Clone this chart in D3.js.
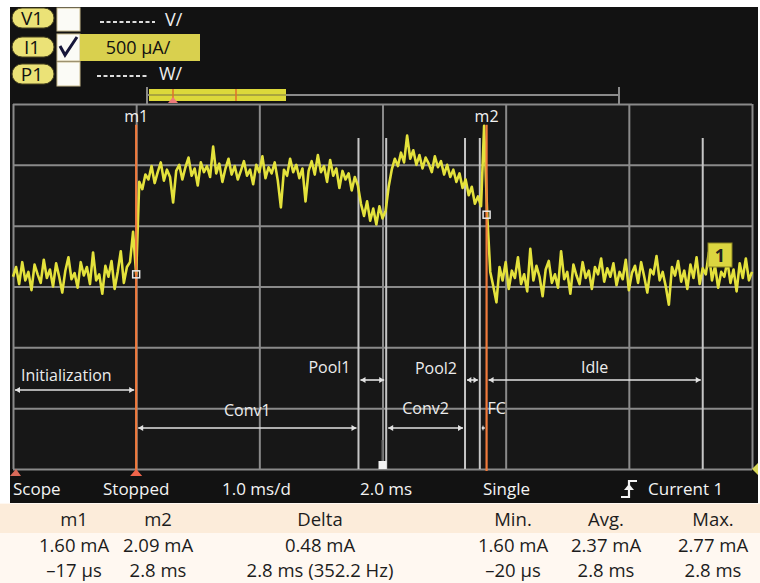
<!DOCTYPE html>
<html><head><meta charset="utf-8">
<script src="https://cdn.jsdelivr.net/npm/d3@7/dist/d3.min.js"></script>
<style>body{margin:0;background:#fff}svg{display:block}text{font-family:"Open Sans",sans-serif}</style>
</head><body><svg id="c" width="760" height="583"></svg>
<script>
// ---------- data ----------
const timeTicks = [-1, 0, 1, 2, 3, 4, 5];          // ms, 1.0 ms/div
const currentTicks = [0, 0.5, 1, 1.5, 2, 2.5, 3];  // mA, 500 µA/div
const sampleStep = 0.025;                          // ms between samples

const initStart = -1.0;
const initValues = [1.58,1.66,1.52,1.70,1.55,1.62,1.47,1.68,1.60,1.53,
  1.72,1.57,1.64,1.50,1.69,1.58,1.45,1.63,1.74,1.56,
  1.61,1.49,1.70,1.59,1.66,1.52,1.78,1.55,1.60,1.44,
  1.67,1.58,1.71,1.48,1.62,1.79,1.53,1.66,1.70,1.95,1.60];
const conv1Start = 0.025;
const conv1Values = [2.36,2.30,2.42,2.38,2.49,2.35,2.44,2.52,2.37,2.46,
  2.40,2.19,2.45,2.50,2.38,2.48,2.56,2.41,2.47,2.33,
  2.52,2.44,2.49,2.40,2.65,2.43,2.51,2.36,2.47,2.55,
  2.42,2.49,2.38,2.45,2.53,2.41,2.46,2.34,2.50,2.44,
  2.57,2.39,2.48,2.43,2.52,2.37,2.15,2.46,2.41,2.55,
  2.44,2.50,2.39,2.47,2.20,2.45,2.53,2.42,2.58,2.44,
  2.49,2.36,2.54,2.41,2.47,2.31,2.45,2.38,2.43,2.29,
  2.40,2.33];
const pool1Start = 1.825;
const pool1Values = [2.18,2.08,2.20,2.04,2.14,2.01,2.16,2.06,2.12];
const conv2Start = 2.05;
const conv2Values = [2.32,2.46,2.55,2.49,2.60,2.52,2.74,2.55,2.62,2.50,
  2.58,2.47,2.56,2.51,2.44,2.57,2.48,2.53,2.42,2.50,
  2.40,2.46,2.36,2.43,2.31,2.38];
const pool2Start = 2.70;
const pool2Values = [2.25,2.32,2.18,2.24];
const fcStart = 2.80;
const fcValues = [2.16,2.82,2.09];
const idleStart = 2.875;
const idleValues = [1.62,1.50,1.37,1.66,1.55,
  1.70,1.48,1.63,1.57,1.74,1.52,1.60,1.46,1.81,1.55,
  1.67,1.58,1.42,1.64,1.71,1.53,1.60,1.49,1.79,1.56,
  1.62,1.44,1.68,1.59,1.52,1.70,1.57,1.63,1.48,1.66,
  1.60,1.73,1.54,1.65,1.58,1.69,1.51,1.62,1.56,1.72,
  1.47,1.61,1.67,1.53,1.70,1.58,1.45,1.64,1.60,1.75,
  1.55,1.62,1.50,1.35,1.66,1.59,1.71,1.54,1.63,1.48,
  1.68,1.57,1.74,1.52,1.65,1.60,1.78,1.55,1.67,1.49,
  1.62,1.58,1.71,1.53,1.64,1.46,1.69,1.57,1.73,1.55,1.62];

const phaseNames = ["Initialization","Conv1","Pool1","Conv2","Pool2","FC","Idle"];
const phaseStarts = [-1, 0, 1.805, 2.03, 2.67, 2.79, 2.845];
const phaseEnds   = [0, 1.805, 2.03, 2.67, 2.79, 2.845, 4.6];
const boundaryTimes = [1.805, 2.03, 2.67, 2.79, 4.6];

const markerNames = ["m1","m2"];
const markerTimes = [0, 2.845];
const markerValues = [1.60, 2.09];
const triggerDelay = 2.0;

const statusLabels = ["Scope","Stopped","1.0 ms/d","2.0 ms","Single","Current 1"];
const tableHeaders = ["m1","m2","Delta","Min.","Avg.","Max."];
const tableCurrents = ["1.60 mA","2.09 mA","0.48 mA","1.60 mA","2.37 mA","2.77 mA"];
const tableTimes = ["\u201317 \u00b5s","2.8 ms","2.8 ms (352.2 Hz)","\u201320 \u00b5s","2.8 ms","2.8 ms"];

// ---------- layout / style ----------
const plot = {left: 13, right: 752, top: 104, bottom: 469};
const statusX = [13, 103, 222, 360, 483, 648];
const tableX = [74, 158, 320, 513, 606, 713];
const phaseStyle = [
  {ay: 390, ly: 381, mode: "start-left"},
  {ay: 428, ly: 416, mode: "middle"},
  {ay: 380, ly: 373, mode: "left-of"},
  {ay: 428, ly: 414, mode: "middle"},
  {ay: 380, ly: 374, mode: "left-of"},
  {ay: 428, ly: 414, mode: "right-of"},
  {ay: 380, ly: 373, mode: "middle"}
];

const svg = d3.select("#c");
const x = d3.scaleLinear().domain([-1, 5]).range([plot.left, plot.right]);
const y = d3.scaleLinear().domain([0, 3]).range([plot.bottom, plot.top]);

// backgrounds
svg.append("rect").attr("x", 10).attr("y", 7).attr("width", 748).attr("height", 496).attr("fill", "#121212");
svg.append("rect").attr("x", 0).attr("y", 503).attr("width", 760).attr("height", 80).attr("fill", "#fff8f1");
svg.append("rect").attr("x", 0).attr("y", 504).attr("width", 760).attr("height", 29).attr("fill", "#fcecda");
svg.append("rect").attr("x", plot.left).attr("y", plot.top).attr("width", plot.right - plot.left)
  .attr("height", plot.bottom - plot.top).attr("fill", "#171717");

// grid via axes
const gridColor = "#8a8a8a";
const gx = svg.append("g").attr("transform", `translate(0,${plot.bottom})`)
  .call(d3.axisBottom(x).tickValues(timeTicks).tickSize(-(plot.bottom - plot.top)).tickFormat(""));
const gy = svg.append("g").attr("transform", `translate(${plot.left},0)`)
  .call(d3.axisLeft(y).tickValues(currentTicks).tickSize(-(plot.right - plot.left)).tickFormat(""));
[gx, gy].forEach(g => {
  g.select(".domain").remove();
  g.selectAll("line").attr("stroke", gridColor).attr("stroke-width", 2);
});

// top scroll bar
const topBar = svg.append("g");
topBar.append("line").attr("x1", 147).attr("x2", 619).attr("y1", 95).attr("y2", 95).attr("stroke", "#8a8a8a").attr("stroke-width", 2);
topBar.append("line").attr("x1", 147).attr("x2", 147).attr("y1", 87).attr("y2", 104).attr("stroke", "#8a8a8a").attr("stroke-width", 2);
topBar.append("line").attr("x1", 619).attr("x2", 619).attr("y1", 87).attr("y2", 104).attr("stroke", "#8a8a8a").attr("stroke-width", 2);
topBar.append("rect").attr("x", 149).attr("y", 89).attr("width", 137).attr("height", 12).attr("fill", "#dcd83a");
topBar.append("line").attr("x1", 149).attr("x2", 286).attr("y1", 95).attr("y2", 95).attr("stroke", "#9a9440").attr("stroke-width", 1.5);
[173, 236].forEach(px => topBar.append("line").attr("x1", px).attr("x2", px).attr("y1", 89).attr("y2", 101).attr("stroke", "#e0702a").attr("stroke-width", 1.5));
topBar.append("path").attr("d", "M168,103 L173,97 L178,103 Z").attr("fill", "#ee7a7a");

// channel buttons
const pills = [{t: "V1", y: 8}, {t: "I1", y: 37}, {t: "P1", y: 64}];
pills.forEach(p => {
  svg.append("rect").attr("x", 12).attr("y", p.y).attr("width", 42).attr("height", 20).attr("rx", 10)
    .attr("fill", "#ebe277").attr("stroke", "#4a4520").attr("stroke-width", 1);
  svg.append("text").attr("x", 32).attr("y", p.y + 17).attr("text-anchor", "middle")
    .attr("font-size", 19).attr("fill", "#111").text(p.t);
});
[{y: 8, h: 23}, {y: 34, h: 27}, {y: 62, h: 24}].forEach(b => {
  svg.append("rect").attr("x", 57).attr("y", b.y).attr("width", 23).attr("height", b.h)
    .attr("fill", "#fbfbf6").attr("stroke", "#c9bb8e").attr("stroke-width", 1);
});
svg.append("path").attr("d", "M60,46 L65,55 L77,37").attr("fill", "none").attr("stroke", "#16163a").attr("stroke-width", 3);
svg.append("rect").attr("x", 80).attr("y", 34).attr("width", 120).attr("height", 27).attr("fill", "#d9d04e");
svg.append("text").attr("x", 138).attr("y", 54).attr("text-anchor", "middle").attr("font-size", 18).attr("fill", "#111").text("500 \u00b5A/");
svg.append("line").attr("x1", 100).attr("x2", 155).attr("y1", 22).attr("y2", 22).attr("stroke", "#dddddd").attr("stroke-width", 2).attr("stroke-dasharray", "4,2.5");
svg.append("text").attr("x", 165).attr("y", 26).attr("font-size", 18).attr("fill", "#eee").text("V/");
svg.append("line").attr("x1", 97).attr("x2", 147).attr("y1", 76).attr("y2", 76).attr("stroke", "#dddddd").attr("stroke-width", 2).attr("stroke-dasharray", "4,2.5");
svg.append("text").attr("x", 159).attr("y", 80).attr("font-size", 18).attr("fill", "#eee").text("W/");

// phase boundary lines
svg.append("g").selectAll("line").data(boundaryTimes).join("line")
  .attr("x1", d => x(d)).attr("x2", d => x(d)).attr("y1", y(2.72)).attr("y2", plot.bottom)
  .attr("stroke", "#c6c6c6").attr("stroke-width", 2);

// trigger delay marker
svg.append("line").attr("x1", x(triggerDelay)).attr("x2", x(triggerDelay)).attr("y1", 440).attr("y2", 462)
  .attr("stroke", "#6a6a6a").attr("stroke-width", 2);
svg.append("rect").attr("x", x(triggerDelay) - 4).attr("y", 461).attr("width", 8).attr("height", 8).attr("fill", "#f4f4f4");

// trace
const segs = [[initStart, initValues], [conv1Start, conv1Values], [pool1Start, pool1Values],
  [conv2Start, conv2Values], [pool2Start, pool2Values], [fcStart, fcValues], [idleStart, idleValues]];
const pts = [];
segs.forEach(([s, vals]) => vals.forEach((v, i) => pts.push([s + i * sampleStep, v])));
svg.append("path").datum(pts)
  .attr("d", d3.line().x(d => x(d[0])).y(d => y(d[1])))
  .attr("fill", "none").attr("stroke", "#e4e23c").attr("stroke-width", 2.6).attr("stroke-linejoin", "round");

// markers
markerTimes.forEach((t, i) => {
  svg.append("line").attr("x1", x(t)).attr("x2", x(t)).attr("y1", y(2.83)).attr("y2", plot.bottom + 2)
    .attr("stroke", "#f07a3c").attr("stroke-width", 2.2);
  svg.append("text").attr("x", x(t)).attr("y", 122).attr("text-anchor", "middle")
    .attr("font-size", 16).attr("fill", "#f2f2f2").text(markerNames[i]);
  svg.append("rect").attr("x", x(t) - 3.5).attr("y", y(markerValues[i]) - 3.5).attr("width", 7).attr("height", 7)
    .attr("fill", "none").attr("stroke", "#e8e8e8").attr("stroke-width", 1.5);
});
svg.append("path").attr("d", `M${x(markerTimes[0]) - 6},${plot.bottom + 7} L${x(markerTimes[0])},${plot.bottom} L${x(markerTimes[0]) + 6},${plot.bottom + 7} Z`).attr("fill", "#f0644a");
svg.append("path").attr("d", `M${plot.left - 3},${plot.bottom + 7} L${plot.left + 3},${plot.bottom} L${plot.left + 8},${plot.bottom + 7} Z`).attr("fill", "#d96a5a");
svg.append("path").attr("d", `M${plot.right + 6},${plot.bottom - 6} L${plot.right},${plot.bottom} L${plot.right + 6},${plot.bottom + 6} Z`).attr("fill", "#d8d85a");

// channel "1" tag
svg.append("rect").attr("x", 708).attr("y", 243).attr("width", 24).attr("height", 24).attr("fill", "#dcd640").attr("stroke", "#8a8420");
svg.append("text").attr("x", 720).attr("y", 262).attr("text-anchor", "middle").attr("font-size", 18).attr("font-weight", "bold").attr("fill", "#222").text("1");

// phase arrows + labels
const arrowColor = "#e2e2e2";
phaseNames.forEach((name, i) => {
  const st = phaseStyle[i];
  const x1 = x(phaseStarts[i]) + 2, x2 = x(phaseEnds[i]) - 2;
  const g = svg.append("g");
  g.append("line").attr("x1", x1).attr("x2", x2).attr("y1", st.ay).attr("y2", st.ay).attr("stroke", arrowColor).attr("stroke-width", 1.6);
  const hw = Math.min(5, (x2 - x1) / 2.5);
  g.append("path").attr("d", `M${x1},${st.ay} L${x1 + hw},${st.ay - 3} L${x1 + hw},${st.ay + 3} Z`).attr("fill", arrowColor);
  g.append("path").attr("d", `M${x2},${st.ay} L${x2 - hw},${st.ay - 3} L${x2 - hw},${st.ay + 3} Z`).attr("fill", arrowColor);
  let lx, anchor;
  if (st.mode === "middle") { lx = (x1 + x2) / 2; anchor = "middle"; }
  else if (st.mode === "start-left") { lx = x1 + 6; anchor = "start"; }
  else if (st.mode === "left-of") { lx = x1 - 10; anchor = "end"; }
  else { lx = x2 + 3; anchor = "start"; }
  g.append("text").attr("x", lx).attr("y", st.ly).attr("text-anchor", anchor)
    .attr("font-size", 16).attr("fill", "#ececec").text(name);
});

// status bar
svg.append("g").selectAll("text").data(statusLabels).join("text")
  .attr("x", (d, i) => statusX[i]).attr("y", 495).attr("font-size", 17).attr("fill", "#f4f4f4").text(d => d);
svg.append("path").attr("d", "M621,497 H629 V481 H637").attr("fill", "none").attr("stroke", "#f4f4f4").attr("stroke-width", 2.2);
svg.append("path").attr("d", "M624,490 L629,484 L634,490 Z").attr("fill", "#f4f4f4");

// table
[[tableHeaders, 526], [tableCurrents, 552], [tableTimes, 577]].forEach(([row, by]) => {
  svg.append("g").selectAll("text").data(row).join("text")
    .attr("x", (d, i) => tableX[i]).attr("y", by).attr("text-anchor", "middle")
    .attr("font-size", 18.5).attr("fill", "#1c1c1c").text(d => d);
});
</script></body></html>
